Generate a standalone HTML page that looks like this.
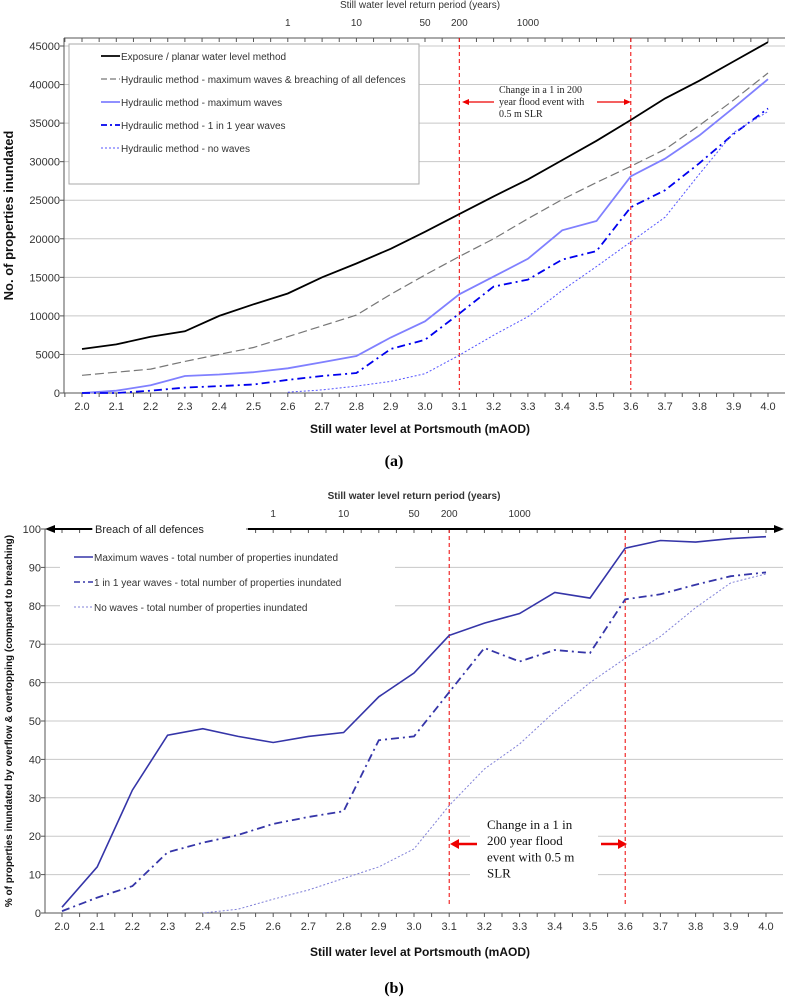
<!DOCTYPE html>
<html><head><meta charset="utf-8"><style>
body{margin:0;background:#fff;}
svg{display:block;font-family:"Liberation Sans",sans-serif;}
</style></head><body>
<svg id="s" width="789" height="1000" viewBox="0 0 789 1000" xmlns="http://www.w3.org/2000/svg"></svg>
<script>
const xCats=["2.0","2.1","2.2","2.3","2.4","2.5","2.6","2.7","2.8","2.9","3.0","3.1","3.2","3.3","3.4","3.5","3.6","3.7","3.8","3.9","4.0"];
const returnPeriods=["1","10","50","200","1000"];
const returnPeriodLevels=[2.6,2.8,3.0,3.1,3.3];
// chart a
const aExposure=[5700,6300,7300,8000,10000,11500,12900,15000,16800,18700,20900,23200,25500,27700,30200,32700,35400,38200,40500,43000,45500];
const aBreach=[2300,2700,3100,4100,5000,5900,7300,8700,10100,12800,15300,17700,20000,22600,25100,27300,29400,31600,34700,38000,41500];
const aMaxWaves=[0,300,1000,2200,2400,2700,3200,4000,4800,7200,9300,12800,15100,17400,21100,22300,28100,30400,33400,37000,40700];
const aOneYear=[0,0,300,700,900,1100,1700,2200,2600,5700,6900,10300,13800,14700,17300,18400,24100,26300,29800,33600,36900];
const aNoWaves=[null,null,null,null,null,null,100,400,900,1500,2500,4900,7500,9900,13300,16400,19600,22800,28400,33800,36500];
const aYTicks=[0,5000,10000,15000,20000,25000,30000,35000,40000,45000];
// chart b
const bMaxWaves=[1.5,12,32,46.3,48,46,44.4,46,47,56.3,62.5,72.3,75.5,78,83.5,82,95,97,96.6,97.5,98];
const bOneYear=[0.5,4,7,15.8,18.3,20.3,23.2,25,26.5,45,46,57.5,69,65.5,68.5,67.7,81.7,83,85.5,87.7,88.7];
const bNoWaves=[null,null,null,null,0,1,3.6,6,9,12,16.7,28,37.5,44,52.5,60,66.3,72,79.5,86,88.3];
const bYTicks=[0,10,20,30,40,50,60,70,80,90,100];

const S=document.getElementById('s');const NS="http://www.w3.org/2000/svg";
function mk(tag,attrs,parent,text){const e=document.createElementNS(NS,tag);for(const k in attrs)e.setAttribute(k,attrs[k]);if(text!==undefined)e.textContent=text;(parent||S).appendChild(e);return e;}

function chart(cfg){
  const g=mk('g',{});
  
  
  const x=v=>cfg.x0+(v-2.0)/2.0*(cfg.x1-cfg.x0);
  const y=v=>cfg.y0-(v-cfg.ymin)/(cfg.ymax-cfg.ymin)*(cfg.y0-cfg.yT);
  cfg.yTicks.forEach(t=>{
    if(t>cfg.ymin){const l=mk('line',{x1:cfg.L,x2:cfg.R,y1:y(t),y2:y(t),stroke:'#c8c8c8','stroke-width':1},g);
    }
    const tx=mk('text',{x:cfg.L-4,y:y(t)+4,'text-anchor':'end','font-size':11,fill:'#333'},g,String(t));
    
    mk('line',{x1:cfg.L-4,x2:cfg.L,y1:y(t),y2:y(t),stroke:'#555'},g);
  });
  mk('line',{x1:cfg.L,x2:cfg.L,y1:cfg.top,y2:cfg.y0,stroke:'#555'},g);
  mk('line',{x1:cfg.L,x2:cfg.R,y1:cfg.y0,y2:cfg.y0,stroke:'#555'},g);
  mk('line',{x1:cfg.L,x2:cfg.R,y1:cfg.top,y2:cfg.top,stroke:'#555'},g);
  for(let v=1.95;v<=4.051;v+=0.05){
    const px=x(v);if(px<cfg.L||px>cfg.R)continue;
    mk('line',{x1:px,x2:px,y1:cfg.y0,y2:cfg.y0+4,stroke:'#555'},g);
    mk('line',{x1:px,x2:px,y1:cfg.top,y2:cfg.top+4,stroke:'#555'},g);
  }
  xCats.forEach(c=>{const t=mk('text',{x:x(+c),y:cfg.y0+17,'text-anchor':'middle','font-size':11,fill:'#333'},g,c);
    });
  returnPeriods.forEach((r,i)=>{const t=mk('text',{x:x(returnPeriodLevels[i]),y:cfg.top-12,'text-anchor':'middle','font-size':10,fill:'#333'},g,r);
    });
  const tt=mk('text',{x:cfg.topTitleX,y:cfg.top-30,'text-anchor':'middle','font-size':10,'font-weight':cfg.bold?'bold':'normal',fill:'#333'},g,'Still water level return period (years)');
  
  const xt=mk('text',{x:cfg.xTitleX,y:cfg.xTitleY,'text-anchor':'middle','font-size':12,'font-weight':'bold',fill:'#111'},g,'Still water level at Portsmouth (mAOD)');
  
  const cy=(cfg.top+cfg.y0)/2;
  const yt=mk('text',{x:cfg.yTitleX,y:cy,'text-anchor':'middle','font-size':cfg.yTitleSize,'font-weight':'bold',fill:'#111',transform:`rotate(-90 ${cfg.yTitleX} ${cy})`},g,cfg.yTitle);
  
  [3.1,3.6].forEach(v=>{const l=mk('line',{x1:x(v),x2:x(v),y1:cfg.top,y2:cfg.redBottom,stroke:'#e00','stroke-width':1,'stroke-dasharray':'4,3'},g);
    });
  cfg.series.forEach(s=>{
    let d='';let pen=false;
    s.data.forEach((v,i)=>{if(v===null){pen=false;return;}d+=(pen?'L':'M')+x(+xCats[i]).toFixed(1)+','+y(v).toFixed(1);pen=true;});
    const p=mk('path',{d:d,fill:'none',stroke:s.color,'stroke-width':s.w,'stroke-dasharray':s.dash||'none'},g);
    
    
  });
  return {g,x,y};
}

const A=chart({name:'chart-a',L:64,R:785,top:38,x0:82,x1:768,y0:393,yT:46,ymin:0,ymax:45000,yTicks:aYTicks,
 topTitleX:420,xTitleX:420,xTitleY:433,yTitleX:13,yTitleSize:13,yTitle:'No. of properties inundated',redBottom:390,
 series:[
  {name:'exposure-line',data:aExposure,color:'#000',w:1.8},
  {name:'breach-line',data:aBreach,color:'#777',w:1.2,dash:'9,4'},
  {name:'max-waves-line',data:aMaxWaves,color:'#8080ff',w:1.8},
  {name:'one-year-waves-line',data:aOneYear,color:'#0000ee',w:1.8,dash:'8,4,2,4'},
  {name:'no-waves-line',data:aNoWaves,color:'#5555ff',w:1,dash:'2,2'}]});
const lg=mk('g',{});
mk('rect',{x:69,y:44,width:350,height:140,fill:'#fff',stroke:'#aaa'},lg);
[['Exposure / planar water level method','#000','',1.8],['Hydraulic method - maximum waves & breaching of all defences','#777','6,3',1.2],
 ['Hydraulic method - maximum waves','#8080ff','',1.8],['Hydraulic method - 1 in 1 year waves','#0000ee','6,3,2,3',1.8],['Hydraulic method - no waves','#5555ff','2,2',1]].forEach((e,i)=>{
  const yy=56+i*23;
  mk('line',{x1:101,x2:120,y1:yy,y2:yy,stroke:e[1],'stroke-width':e[3],'stroke-dasharray':e[2]||'none'},lg);
  const t=mk('text',{x:121,y:yy+4,'font-size':10,fill:'#333'},lg,e[0]);
  
});
const an=mk('g',{'font-family':'"Liberation Serif",serif','font-size':10,fill:'#222'});
['Change in a 1 in 200','year flood event with','0.5 m SLR'].forEach((s,i)=>mk('text',{x:499,y:93+i*12},an,s));
mk('line',{x1:466,x2:494,y1:102,y2:102,stroke:'#e00','stroke-width':1.3},an);mk('path',{d:'M462,102 L469,99 L469,105Z',fill:'#e00'},an);
mk('line',{x1:597,x2:626,y1:102,y2:102,stroke:'#e00','stroke-width':1.3},an);mk('path',{d:'M631,102 L624,99 L624,105Z',fill:'#e00'},an);
const la=mk('text',{x:394,y:466,'text-anchor':'middle','font-family':'"Liberation Serif",serif','font-size':16,'font-weight':'bold'},S,'(a)');


const B=chart({name:'chart-b',L:45,R:783,top:529,x0:62,x1:766,y0:913,yT:529,ymin:0,ymax:100,yTicks:bYTicks,bold:true,
 topTitleX:414,xTitleX:420,xTitleY:956,yTitleX:12,yTitleSize:10,yTitle:'% of properties inundated by overflow & overtopping (compared to breaching)',redBottom:905,
 series:[]});
const lb=mk('g',{});
mk('rect',{x:60,y:545,width:335,height:65,fill:'#fff'},lb);
mk('rect',{x:470,y:812,width:128,height:68,fill:'#fff'},lb);
const bSeries=[
  {name:'max-waves-pct-line',data:bMaxWaves,color:'#3535a8',w:1.6},
  {name:'one-year-waves-pct-line',data:bOneYear,color:'#3535a8',w:1.8,dash:'8,4,2,4'},
  {name:'no-waves-pct-line',data:bNoWaves,color:'#8080d8',w:1,dash:'2,2'}];
bSeries.forEach(s=>{let d='',pen=false;s.data.forEach((v,i)=>{if(v===null){pen=false;return;}d+=(pen?'L':'M')+B.x(+xCats[i]).toFixed(1)+','+B.y(v).toFixed(1);pen=true;});
  const p=mk('path',{d:d,fill:'none',stroke:s.color,'stroke-width':s.w,'stroke-dasharray':s.dash||'none'},B.g);
  
  });
[['Maximum waves - total number of properties inundated','#3535a8','',1.6],['1 in 1 year waves - total number of properties inundated','#3535a8','6,3,2,3',1.6],['No waves - total number of properties inundated','#8080d8','2,2',1]].forEach((e,i)=>{
  const yy=557+i*25;
  mk('line',{x1:74,x2:93,y1:yy,y2:yy,stroke:e[1],'stroke-width':e[3],'stroke-dasharray':e[2]||'none'},lb);
  const t=mk('text',{x:94,y:yy+4,'font-size':10,fill:'#333'},lb,e[0]);
  
});
const ba=mk('g',{});
mk('rect',{x:93,y:520,width:153,height:18,fill:'#fff'},ba);
mk('line',{x1:50,x2:92,y1:529,y2:529,stroke:'#000','stroke-width':2},ba);mk('path',{d:'M45,529 L55,525 L55,533Z'},ba);
mk('text',{x:95,y:533,'font-size':11,fill:'#222'},ba,'Breach of all defences');
mk('line',{x1:248,x2:776,y1:529,y2:529,stroke:'#000','stroke-width':2},ba);mk('path',{d:'M784,529 L774,525 L774,533Z'},ba);
const an2=mk('g',{'font-family':'"Liberation Serif",serif','font-size':13,fill:'#111'});
['Change in a 1 in','200 year flood','event with 0.5 m','SLR'].forEach((s,i)=>mk('text',{x:487,y:829+i*16.2},an2,s));
mk('line',{x1:456,x2:477,y1:844,y2:844,stroke:'#e00','stroke-width':2.5},an2);mk('path',{d:'M450,844 L459,839 L459,849Z',fill:'#e00'},an2);
mk('line',{x1:601,x2:620,y1:844,y2:844,stroke:'#e00','stroke-width':2.5},an2);mk('path',{d:'M627,844 L618,839 L618,849Z',fill:'#e00'},an2);
const lbb=mk('text',{x:394,y:993,'text-anchor':'middle','font-family':'"Liberation Serif",serif','font-size':16,'font-weight':'bold'},S,'(b)');

</script>
</body></html>
